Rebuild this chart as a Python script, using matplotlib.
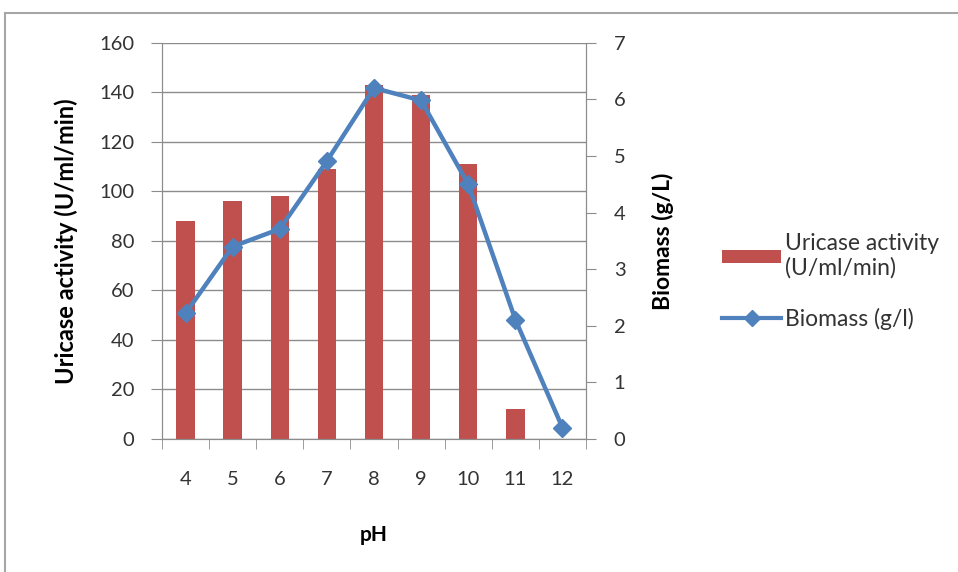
import matplotlib
matplotlib.use("Agg")
import matplotlib.pyplot as plt
from matplotlib.lines import Line2D
from matplotlib.patches import Patch
import numpy as np

plt.rcParams['font.family'] = ['Lato', 'DejaVu Sans']

ph_labels = ['4', '5', '6', '7', '8', '9', '10', '11', '12']
uricase = [88, 96, 98, 109, 143, 139, 111, 12, 0]
biomass = [2.22, 3.4, 3.71, 4.91, 6.2, 5.98, 4.5, 2.11, 0.2]

bar_color = '#C0504D'
line_color = '#4F81BD'
grid_color = '#8C8C8C'
text_color = '#333333'

fig = plt.figure(figsize=(9.58, 5.72), dpi=100)
ax = fig.add_axes([0.1691, 0.2325, 0.4426, 0.6928])
ax2 = ax.twinx()

x = np.arange(len(ph_labels))
ax.bar(x, uricase, width=0.39, color=bar_color, zorder=2)
ax2.plot(x, biomass, color=line_color, lw=3.2, marker='D', ms=9,
         markerfacecolor=line_color, markeredgecolor=line_color, zorder=3)

ax.set_xlim(-0.5, len(ph_labels) - 0.5)
ax.set_ylim(0, 160)
ax2.set_ylim(0, 7)
ax.set_yticks(np.arange(0, 161, 20))
ax2.set_yticks(np.arange(0, 8, 1))
ax.set_xticks(x)
ax.set_xticklabels(ph_labels)
ax.set_xticks(np.arange(-0.5, len(ph_labels), 1), minor=True)

ax.yaxis.grid(True, color=grid_color, lw=1.0, zorder=0)
ax.set_axisbelow(True)
for a in (ax, ax2):
    for s in a.spines.values():
        s.set_color(grid_color)
    a.spines['top'].set_visible(False)

ax.tick_params(axis='x', which='major', length=0, pad=23, labelsize=14.5, colors=text_color)
ax.tick_params(axis='x', which='minor', length=7, direction='out', color=grid_color)
ax.tick_params(axis='y', length=8, direction='out', color=grid_color, pad=12,
               labelsize=14.5, labelcolor=text_color)
ax2.tick_params(axis='y', length=7, direction='out', color=grid_color, pad=13,
                labelsize=14.5, labelcolor=text_color)

ax.set_ylabel('Uricase activity (U/ml/min)', fontsize=17, fontweight='bold',
              color='black', labelpad=15)
ax2.set_ylabel('Biomass (g/L)', fontsize=16.5, fontweight='bold',
               color='black', labelpad=19)
ax.set_xlabel('pH', fontsize=15, fontweight='bold', color='black', labelpad=27)

handles = [Patch(facecolor=bar_color, edgecolor='none'),
           Line2D([0], [0], color=line_color, lw=3, marker='D', ms=8)]
leg = fig.legend(handles, ['Uricase activity\n(U/ml/min)', 'Biomass (g/l)'],
                 loc='center left', bbox_to_anchor=(0.732, 0.508),
                 frameon=False, fontsize=16.5, handlelength=2.6, handleheight=0.5,
                 handletextpad=0.15, labelspacing=1.25)
for t in leg.get_texts():
    t.set_color(text_color)

# outer chart frame
fy = 1 - 13 / 572
fx = 5 / 958
fig.add_artist(Line2D([fx, fx], [0, fy], transform=fig.transFigure, color='#A6A6A6', lw=1.5))
fig.add_artist(Line2D([fx, 1], [fy, fy], transform=fig.transFigure, color='#A6A6A6', lw=1.5))

fig.savefig('out.png', dpi=100)
